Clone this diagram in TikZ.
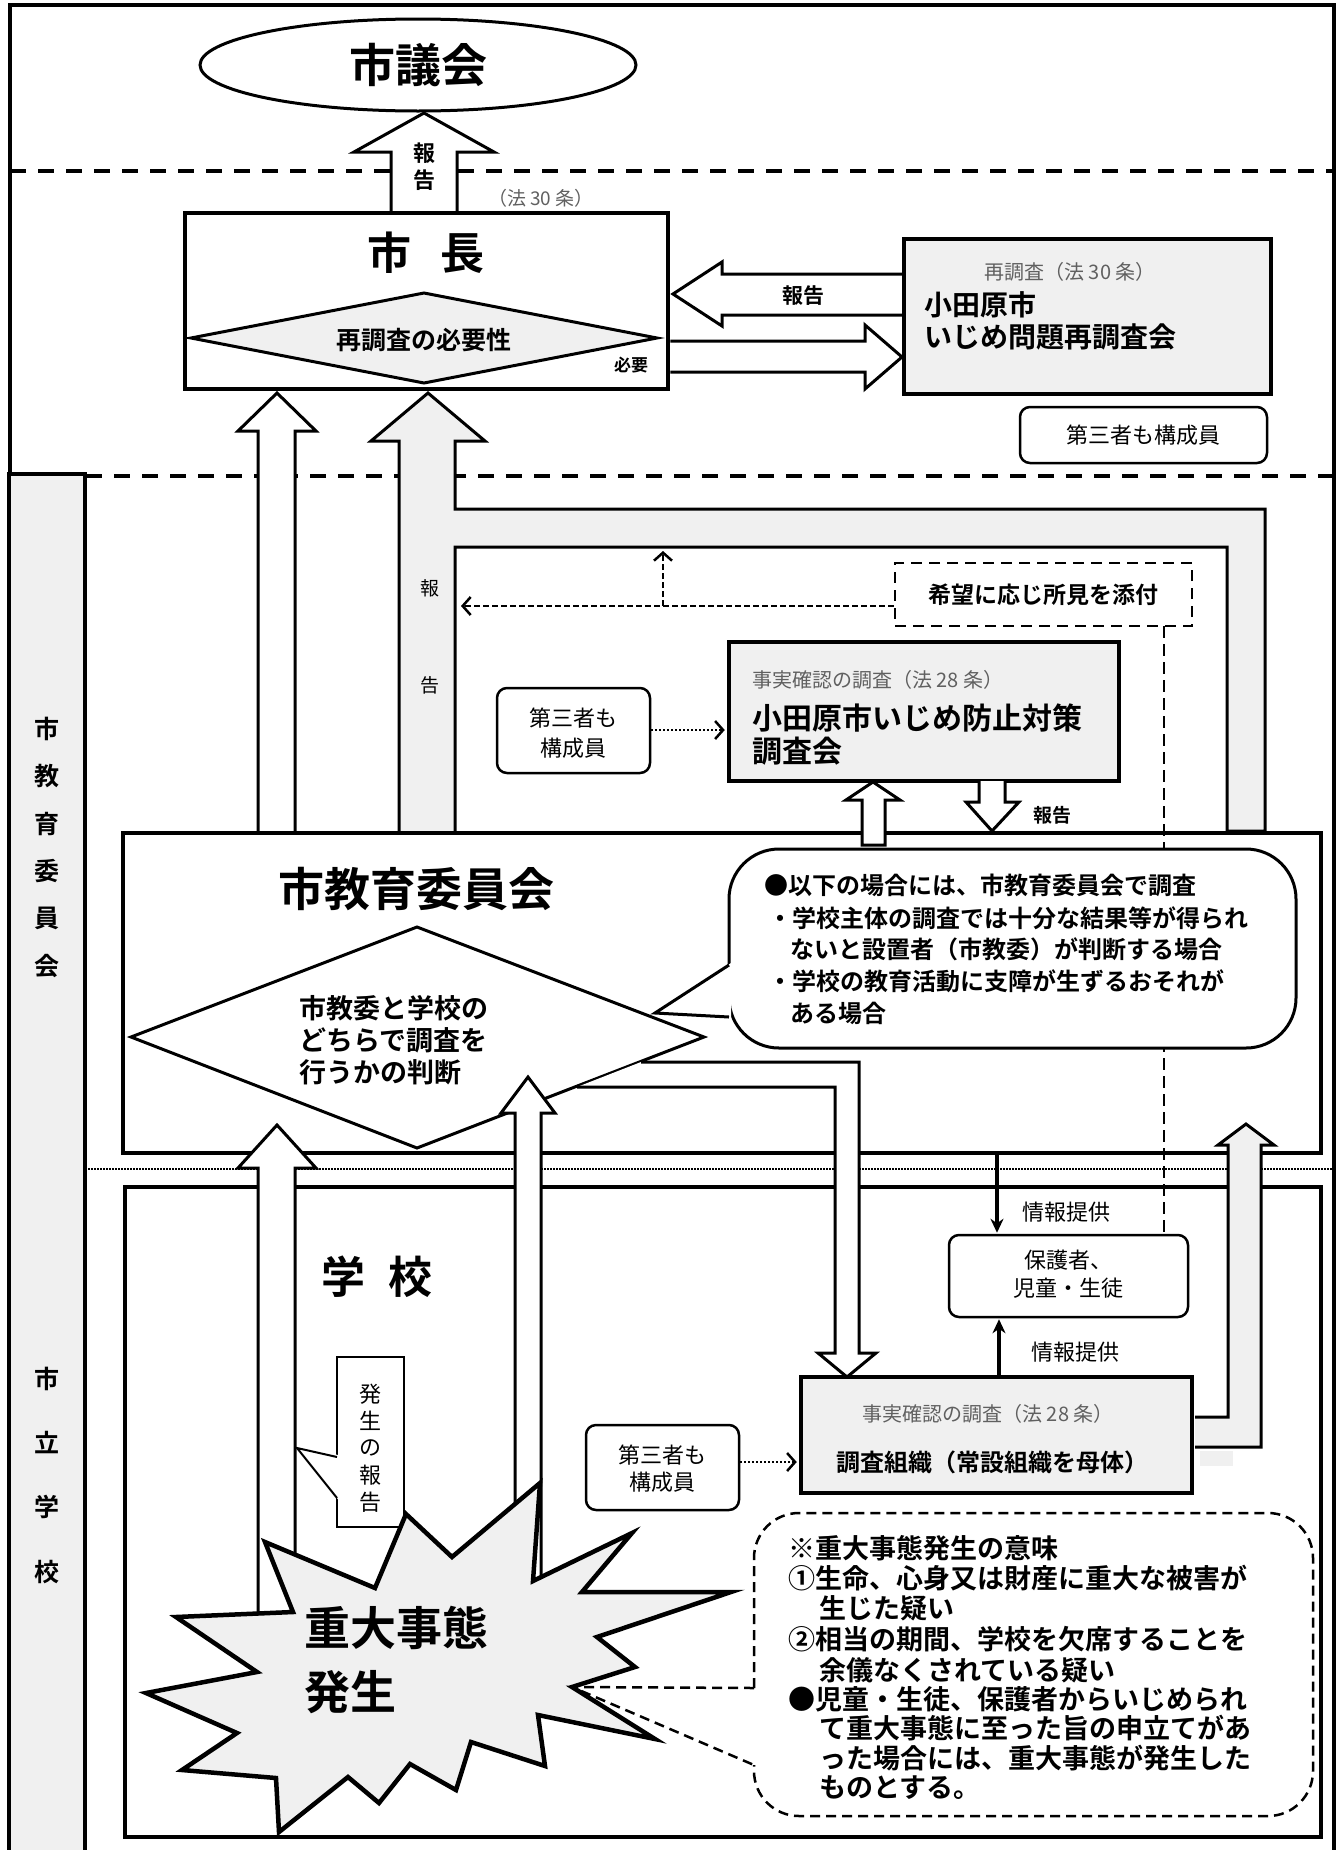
\documentclass[tikz,border=0pt]{standalone}
\usepackage{fontspec}
\setmainfont{Noto Sans CJK JP}[BoldFont={Noto Sans CJK JP Bold}]
\usetikzlibrary{arrows.meta,fit,shapes.geometric}
\definecolor{lg}{HTML}{F0F0F0}
\definecolor{tg}{HTML}{606060}
\tikzset{
  fs/.style={font=\fontsize{#1pt}{#1pt}\selectfont, inner sep=0pt},
  fb/.style={font=\fontsize{#1pt}{#1pt}\selectfont\bfseries, inner sep=0pt},
  bx/.style={draw, line width=4.5pt, inner sep=0pt},
  rbox/.style={draw, line width=2.5pt, rounded corners=10pt, inner sep=0pt, fill=white},
  ar/.style={draw, fill=white, line width=3pt, line join=miter},
  thickdash/.style={line width=4pt, dash pattern=on 16pt off 12pt},
  dsh/.style={line width=2.5pt, dash pattern=on 6pt off 3pt},
  dtt/.style={line width=2.5pt, dash pattern=on 2pt off 2pt},
  barb/.style={-{Straight Barb[length=8pt,width=18pt,line width=2.5pt]}},
  info/.style={line width=3.5pt, -{Stealth[length=14pt,width=13pt]}}
}
\begin{document}
\begin{tikzpicture}[x=1pt,y=-1pt]
\useasboundingbox (0,0) rectangle (1340,1850);
% outer frame and separators
\draw[line width=4pt] (10,1870) -- (10,5) -- (1334,5) -- (1334,1870);
\draw[thickdash] (10,171) -- (1334,171);
\draw[thickdash] (86,476) -- (1334,476);
\draw[line width=1.5pt, dash pattern=on 1.5pt off 1.5pt] (10,1169) -- (1334,1169);
% left column
\node[fit={(9,474) (85,1900)}, bx, line width=4pt, fill=lg] (col) {};
\foreach \c/\y [count=\i] in {市/729,教/776,育/824,委/871,員/918,会/966}
  \node[fb=25] (ca\i) at (47,\y) {\c};
\foreach \c/\y [count=\i] in {市/1379,立/1442,学/1507,校/1572}
  \node[fb=25] (cb\i) at (47,\y) {\c};
% city council
\node[draw, ellipse, line width=3pt, minimum width=436pt, minimum height=92pt, fb=46] (gikai) at (418,65) {市議会};
\filldraw[ar] (391,213) -- (391,152) -- (354,152) -- (424,113) -- (494,152) -- (457,152) -- (457,213);
\node[fb=22] (hk1) at (424,153) {報};
\node[fb=22] (hk2) at (424,180) {告};
\node[fs=19, text=tg] (law30) at (541,198) {（法 30 条）};
% mayor
\node[fit={(185,213) (668,389)}, bx, fill=white] (mayor) {};
\node[fb=44] (mayort) at (426,253) {市\hspace{30pt}長};
\filldraw[fill=lg, line width=3pt] (191,338) -- (424,293) -- (657,338) -- (424,383) -- cycle;
\node[fb=25] (need) at (424,340) {再調査の必要性};
\node[fb=17] (hitsuyo) at (631,365) {必要};
% re-investigation
\node[fit={(904,239) (1271,394)}, bx, fill=lg] (sai) {};
\filldraw[ar] (sai.west |- 0,274) -- (722,274) -- (722,262) -- (673,294) -- (722,326) -- (722,315) -- (sai.west |- 0,315);
\node[fb=21] (hk3) at (803,296) {報告};
\filldraw[ar] (mayor.east |- 0,341) -- (865,341) -- (865,325) -- (902,357) -- (865,389) -- (865,372) -- (mayor.east |- 0,372);
\node[fs=20, text=tg] (sait1) at (1070,272) {再調査（法 30 条）};
\node[fb=28, anchor=west] (sait2) at (924,305) {小田原市};
\node[fb=28, anchor=west] (sait3) at (924,337) {いじめ問題再調査会};
\node[fit={(1020,407) (1267,463)}, rbox] (dai1) {};
\node[fs=22] (dai1t) at (dai1) {第三者も構成員};
% long dashed line
\draw[line width=1.8pt, dash pattern=on 12pt off 6pt] (1164,626) -- (1164,1235);
% arrows up to mayor
\filldraw[ar] (258,831) -- (258,431) -- (238,431) -- (277,393) -- (316,431) -- (295,431) -- (295,831);
\filldraw[ar, fill=lg] (399,831) -- (399,441) -- (371,441) -- (428,393) -- (485,441) -- (455,441) -- (455,509) -- (1265,509) -- (1265,831) -- (1227,831) -- (1227,547) -- (455,547) -- (455,831);
\node[fs=19] (hk4) at (430,588) {報};
\node[fs=19] (hk5) at (430,685) {告};
% wish box
\node[fit={(895,563) (1192,626)}, draw, line width=2.5pt, dash pattern=on 11pt off 7pt, inner sep=0pt] (kibou) {};
\node[fb=23] (kibout) at (kibou) {希望に応じ所見を添付};
\draw[dsh, barb] (kibou.west |- 0,606) -- (461,606);
\draw[dsh, barb] (663,606) -- (663,551);
% prevention committee
\node[fit={(729,642) (1119,781)}, bx, fill=lg] (iinkai) {};
\node[fs=20, text=tg, anchor=west] (iit1) at (752,680) {事実確認の調査（法 28 条）};
\node[fb=30, anchor=west] (iit2) at (752,718) {小田原市いじめ防止対策};
\node[fb=30, anchor=west] (iit3) at (752,751) {調査会};
\node[fit={(497,688) (650,773)}, rbox] (dai2) {};
\node[fs=22] (dai2a) at (573,718) {第三者も};
\node[fs=22] (dai2b) at (573,748) {構成員};
\draw[dtt, barb, shorten >=2pt] (dai2.east |- 0,730) -- (iinkai.west |- 0,730);
% board of education
\node[fit={(123,833) (1321,1153)}, bx] (kyoi) {};
\node[fb=46] (kyoit) at (416,889) {市教育委員会};
\filldraw[ar] (862,845) -- (862,800) -- (846,800) -- (873,782) -- (900,800) -- (885,800) -- (885,845) -- cycle;
\filldraw[ar] (979,781) -- (979,802) -- (966,802) -- (992,831) -- (1019,802) -- (1005,802) -- (1005,781);
\node[fb=19] (hk6) at (1052,815) {報告};
% callout in board
\filldraw[fill=white, line width=3pt, rounded corners=50pt] (729,849) rectangle (1296,1048);
\fill[white] (731,963) -- (655,1013) -- (731,1019) -- cycle;
\draw[line width=3pt, line join=miter] (729,965) -- (655,1013) -- (729,1017);
\node[fb=24, anchor=west] (cl1) at (764,885) {●以下の場合には、市教育委員会で調査};
\node[fb=24, anchor=west] (cl2) at (768,918) {・学校主体の調査では十分な結果等が得られ};
\node[fb=24, anchor=west] (cl3) at (790,949) {ないと設置者（市教委）が判断する場合};
\node[fb=24, anchor=west] (cl4) at (768,981) {・学校の教育活動に支障が生ずるおそれが};
\node[fb=24, anchor=west] (cl5) at (790,1013) {ある場合};
% judgement diamond
\filldraw[fill=white, line width=3pt] (131,1037) -- (417,927) -- (704,1037) -- (417,1148) -- cycle;
\node[fb=27, anchor=west] (dj1) at (299,1008) {市教委と学校の};
\node[fb=27, anchor=west] (dj2) at (299,1040) {どちらで調査を};
\node[fb=27, anchor=west] (dj3) at (299,1072) {行うかの判断};
% school
\node[fit={(125,1187) (1321,1837)}, bx] (school) {};
\node[fb=44] (schoolt) at (377,1277) {学\hspace{24pt}校};
\node[fit={(949,1235) (1188,1317)}, rbox] (hogo) {};
\node[fs=22] (hogo1) at (1068,1260) {保護者、};
\node[fs=22] (hogo2) at (1068,1288) {児童・生徒};
\draw[info, shorten >=1pt] (997,0 |- kyoi.south) -- (997,0 |- hogo.north);
\node[fs=22, anchor=west] (inf1) at (1022,1212) {情報提供};
% organisation
\node[fit={(801,1377) (1192,1493)}, bx, fill=lg] (chosa) {};
\draw[info, shorten >=1pt] (999,0 |- chosa.north) -- (999,0 |- hogo.south);
\node[fs=22, anchor=west] (inf2) at (1031,1352) {情報提供};
\node[fs=20, text=tg] (cht1) at (988,1414) {事実確認の調査（法 28 条）};
\node[fb=24] (cht2) at (992,1462) {調査組織（常設組織を母体）};
\filldraw[ar, fill=lg] (1195,1417) -- (1228,1417) -- (1228,1145) -- (1218,1145) -- (1246,1124) -- (1274,1145) -- (1261,1145) -- (1261,1447) -- (1195,1447);
\fill[lg] (1200,1451) rectangle (1233,1466);
\node[fit={(586,1425) (739,1510)}, rbox] (dai3) {};
\node[fs=22] (dai3a) at (662,1455) {第三者も};
\node[fs=22] (dai3b) at (662,1482) {構成員};
\draw[dtt, barb, shorten >=2pt] (dai3.east |- 0,1462) -- (chosa.west |- 0,1462);
% L arrow from diamond to organisation
\filldraw[ar] (641,1062) -- (859,1062) -- (859,1353) -- (876,1353) -- (847,1377) -- (818,1353) -- (835,1353) -- (835,1087) -- (577,1087);
% arrows from the incident
\filldraw[ar] (258,1650) -- (258,1168) -- (238,1168) -- (277,1125) -- (316,1168) -- (295,1168) -- (295,1650);
\filldraw[ar] (515,1650) -- (515,1113) -- (501,1113) -- (528,1077) -- (555,1113) -- (541,1113) -- (541,1650);
% report callout
\filldraw[fill=white, line width=2pt] (337,1357) rectangle (404,1527);
\fill[white] (338.5,1455) -- (297,1448) -- (338.5,1500) -- cycle;
\draw[line width=2pt, line join=miter] (337,1457) -- (297,1448) -- (337,1498);
\foreach \c/\y [count=\i] in {発/1394,生/1421,の/1448,報/1475,告/1502}
  \node[fs=22] (hr\i) at (370,\y) {\c};
% starburst
\filldraw[fill=lg, line width=4.5pt, line join=miter] (540,1483) -- (533,1581) -- (632,1533) -- (582,1592) -- (731,1592) -- (597,1637) -- (635,1667) -- (572,1687) -- (655,1739) -- (538,1715) -- (545,1766) -- (471,1742) -- (456,1790) -- (410,1764) -- (379,1803) -- (348,1777) -- (279,1832) -- (276,1778) -- (182,1770) -- (237,1733) -- (146,1693) -- (257,1672) -- (176,1617) -- (293,1612) -- (265,1542) -- (375,1588) -- (406,1514) -- (452,1557) -- cycle;
\node[fb=46, anchor=west] (jd1) at (304,1628) {重大事態};
\node[fb=46, anchor=west] (jd2) at (304,1692) {発生};
% meaning callout
\draw[line width=2.5pt, dash pattern=on 10pt off 6pt, rounded corners=45pt] (754,1688) -- (754,1513) -- (1313,1513) -- (1313,1816) -- (754,1816) -- (754,1765);
\draw[line width=2.5pt, dash pattern=on 10pt off 6pt] (754,1688) -- (572,1687) -- (754,1765);
\node[fb=27, anchor=west] (m1) at (788,1548) {※重大事態発生の意味};
\node[fb=27, anchor=west] (m2) at (788,1578) {①生命、心身又は財産に重大な被害が};
\node[fb=27, anchor=west] (m3) at (819,1608) {生じた疑い};
\node[fb=27, anchor=west] (m4) at (788,1639) {②相当の期間、学校を欠席することを};
\node[fb=27, anchor=west] (m5) at (819,1670) {余儀なくされている疑い};
\node[fb=27, anchor=west] (m6) at (788,1699) {●児童・生徒、保護者からいじめられ};
\node[fb=27, anchor=west] (m7) at (819,1728) {て重大事態に至った旨の申立てがあ};
\node[fb=27, anchor=west] (m8) at (819,1758) {った場合には、重大事態が発生した};
\node[fb=27, anchor=west] (m9) at (819,1788) {ものとする。};
\end{tikzpicture}
\end{document}
